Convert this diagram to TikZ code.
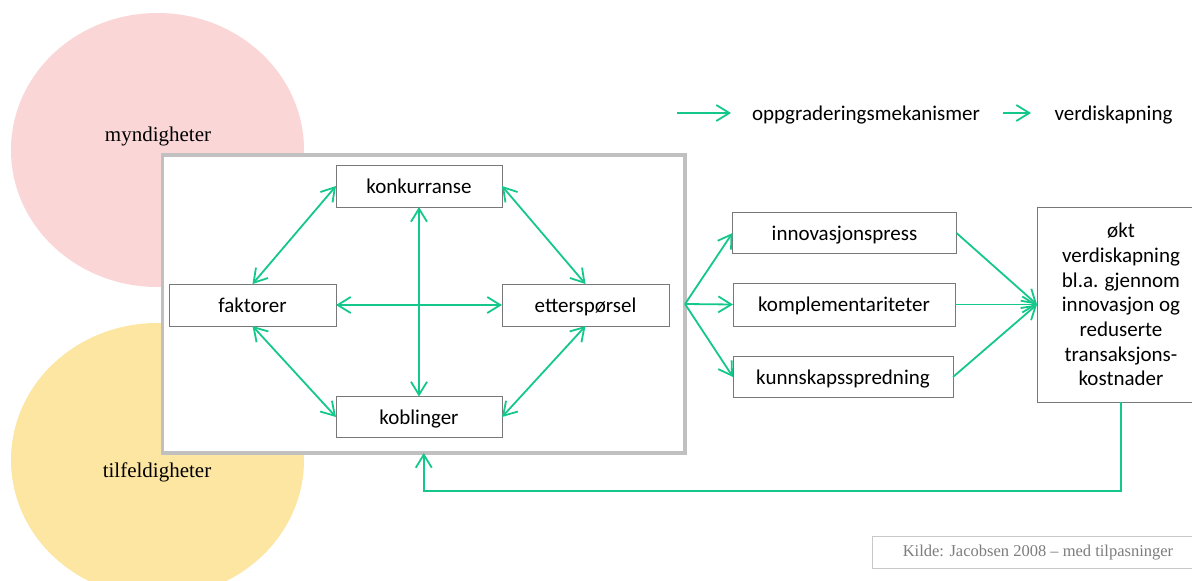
\documentclass[tikz,border=0pt]{standalone}
\usepackage{fontspec}
\setmainfont{Liberation Serif}
\newfontfamily\calib{Carlito}
\usetikzlibrary{arrows.meta}
\definecolor{grn}{RGB}{20,200,140}
\definecolor{boxgray}{RGB}{120,120,120}
\definecolor{framegray}{RGB}{192,192,192}
\definecolor{pinkfill}{RGB}{250,214,215}
\definecolor{yellowfill}{RGB}{253,230,162}
\definecolor{kgray}{RGB}{200,200,200}
\definecolor{ktext}{RGB}{125,125,125}
\begin{document}
\begin{tikzpicture}[x=1pt,y=-1pt,
  basebox/.style={draw=boxgray, line width=1pt, fill=white, inner sep=0pt, outer sep=0pt},
  box/.style={basebox, font=\calib\fontsize{21}{25}\selectfont, text height=16pt, text depth=1.4pt},
  bigbox/.style={basebox, font=\calib\fontsize{21}{24.7}\selectfont, align=center},
  serif/.style={font=\fontsize{21}{25}\selectfont, inner sep=0pt, anchor=base},
  legend/.style={font=\calib\fontsize{21}{25}\selectfont, inner sep=0pt, anchor=base},
  link/.style={draw=grn, line width=1.8pt, {Straight Barb[length=13pt,width=16pt]}-{Straight Barb[length=13pt,width=16pt]}},
  fwd/.style={draw=grn, line width=1.8pt, -{Straight Barb[length=13pt,width=16pt]}},
]
\useasboundingbox (0,0) rectangle (1192,581);
\fill[white] (0,0) rectangle (1192,581);

% background ellipses
\fill[pinkfill] (157.5,150) ellipse [x radius=146.5, y radius=137];
\fill[yellowfill] (157.5,460) ellipse [x radius=146.5, y radius=137];
\node[serif] (myn) at (158,141.7) {myndigheter};
\node[serif] (tilf) at (157,477) {tilfeldigheter};

% main frame
\node[draw=framegray, line width=3.5pt, fill=white, inner sep=0pt, outer sep=0pt,
      minimum width=522.5pt, minimum height=298pt] (main) at (423.75,304) {};

% inner nodes
\node[box, minimum width=166pt, minimum height=42pt] (konk) at (419,186) {konkurranse};
\node[box, minimum width=167pt, minimum height=42pt] (fakt) at (252.5,305) {faktorer};
\node[box, minimum width=167pt, minimum height=42pt] (etter) at (585.5,305) {etterspørsel};
\node[box, minimum width=166pt, minimum height=41pt] (kobl) at (419,417) {koblinger};

% middle nodes
\node[box, minimum width=224pt, minimum height=41pt] (innov) at (844.5,233) {innovasjonspress};
\node[box, minimum width=222pt, minimum height=43pt] (kompl) at (844,304.5) {komplementariteter};
\node[box, minimum width=220pt, minimum height=41pt] (kunn) at (843,377) {kunnskapsspredning};

% right node
\node[bigbox, minimum width=168pt, minimum height=195pt] (big) at (1121,304.5)
  {økt\\verdiskapning\\bl.a. gjennom\\innovasjon og\\reduserte\\transaksjons-\\kostnader};

% inner connectors
\draw[link] (konk.west) -- (fakt.north);
\draw[link] (konk.east) -- (etter.north);
\draw[link] (fakt.south) -- (kobl.west);
\draw[link] (etter.south) -- (kobl.east);
\draw[link] (konk.south) -- (kobl.north);
\draw[link] (fakt.east) -- (etter.west);

% outgoing connectors
\draw[fwd] (main.east) -- (innov.west);
\draw[fwd] (main.east) -- (kompl.west);
\draw[fwd] (main.east) -- (kunn.west);
\draw[fwd] (innov.east) -- (big.west);
\draw[fwd] (kompl.east) -- (big.west);
\draw[fwd] (kunn.east) -- (big.west);

% feedback
\coordinate (fb) at (423.75,491);
\draw[fwd] (big.south) |- (fb) -- (main.south);

% legend
\coordinate (la1) at (677,113);
\coordinate (la2) at (731,113);
\coordinate (lb1) at (1003,113);
\coordinate (lb2) at (1031,113);
\draw[fwd] (la1) -- (la2);
\draw[fwd] (lb1) -- (lb2);
\node[legend] (lego) at (866,120) {oppgraderingsmekanismer};
\node[legend] (legv) at (1113.5,120) {verdiskapning};

% source
\node[draw=kgray, line width=0.8pt, inner sep=0pt, outer sep=0pt, minimum width=333pt, minimum height=32pt] (kbox) at (1038.5,552) {};
\node[font=\fontsize{16.5}{20}\selectfont, text=ktext, inner sep=0pt, anchor=base] (ktxt) at (1038,556) {Kilde: Jacobsen 2008 – med tilpasninger};
\end{tikzpicture}
\end{document}
